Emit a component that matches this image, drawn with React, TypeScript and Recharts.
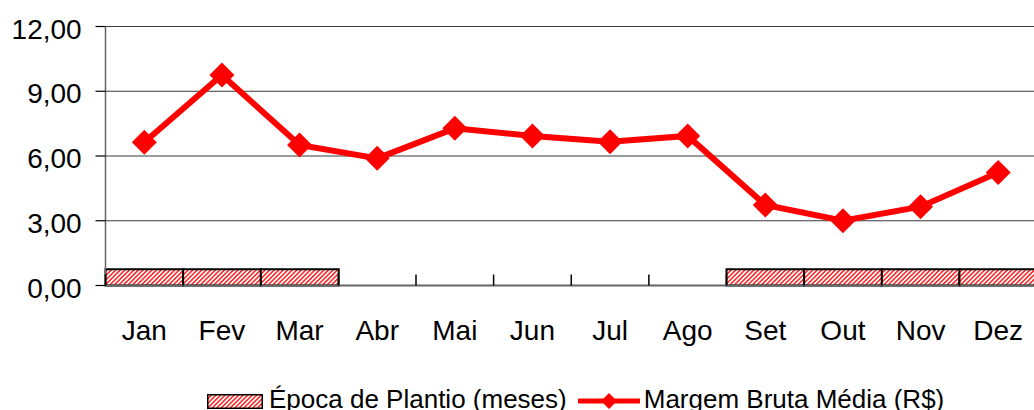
import React from "react";
import {
  ComposedChart,
  Bar,
  Line,
  XAxis,
  YAxis,
  CartesianGrid,
  Legend,
} from "recharts";

const months = ["Jan", "Fev", "Mar", "Abr", "Mai", "Jun", "Jul", "Ago", "Set", "Out", "Nov", "Dez"];
const margemBruta = [6.64, 9.75, 6.51, 5.89, 7.28, 6.93, 6.66, 6.93, 3.73, 3.0, 3.65, 5.23];
const epocaPlantio = [0.75, 0.75, 0.75, null, null, null, null, null, 0.75, 0.75, 0.75, 0.75];
const yTicks = [0, 3, 6, 9, 12];

const data = months.map((m, i) => ({
  mes: m,
  margem: margemBruta[i],
  plantio: epocaPlantio[i],
}));

const FONT = '"Liberation Sans", Arial, sans-serif';

const fmt = (v: number) => v.toFixed(2).replace(".", ",");

const Diamond = (props: any) => {
  const { cx, cy } = props;
  if (cx == null || cy == null) return null;
  const r = 12.5;
  return (
    <polygon
      points={`${cx},${cy - r} ${cx + r},${cy} ${cx},${cy + r} ${cx - r},${cy}`}
      fill="#ff0000"
    />
  );
};

// category label plus the small tick at the left edge of each band
const XTick = (props: any) => {
  const { x, y, payload } = props;
  const half = payload && payload.offset ? payload.offset : 38.8;
  return (
    <g>
      <line x1={x - half} y1={y} x2={x - half} y2={y - 11} stroke="#000" strokeWidth={1.5} />
      <text x={x} y={y + 54} textAnchor="middle" fontSize={28} fontFamily={FONT} fill="#000">
        {payload.value}
      </text>
    </g>
  );
};

const YTick = (props: any) => {
  const { x, y, payload } = props;
  return (
    <text x={x} y={y + 12} textAnchor="end" fontSize={28} fontFamily={FONT} fill="#000">
      {fmt(payload.value)}
    </text>
  );
};

const LegendBox = () => (
  <div
    style={{
      height: 44,
      boxSizing: "border-box",
      paddingTop: 22,
      paddingLeft: 207,
      display: "flex",
      alignItems: "center",
      fontFamily: FONT,
      fontSize: 26,
      lineHeight: "20px",
      color: "#000",
      whiteSpace: "nowrap",
    }}
  >
    <svg width={56} height={15} style={{ position: "relative", top: 2 }}>
      <rect x={0.75} y={0.75} width={54.5} height={13.5} fill="url(#hatch)" stroke="#000" strokeWidth={1.5} />
    </svg>
    <span style={{ marginLeft: 6 }}>Época de Plantio (meses)</span>
    <svg width={62} height={20} style={{ marginLeft: 11, position: "relative", top: 2 }}>
      <line x1={1} y1={10} x2={61} y2={10} stroke="#ff0000" strokeWidth={5} strokeLinecap="round" />
      <polygon points="31,2 39,10 31,18 23,10" fill="#ff0000" />
    </svg>
    <span style={{ marginLeft: 4 }}>Margem Bruta Média (R$)</span>
  </div>
);

export default function App() {
  return (
    <div
      style={{
        position: "absolute",
        left: 0,
        top: 0,
        width: 1034,
        height: 410,
        overflow: "hidden",
        background: "#fff",
      }}
    >
      <svg width={0} height={0} style={{ position: "absolute" }}>
        <defs>
          <pattern
            id="hatch"
            patternUnits="userSpaceOnUse"
            width={3.2}
            height={3.2}
            patternTransform="rotate(45)"
          >
            <rect width={3.2} height={3.2} fill="#ffffff" />
            <rect width={1.5} height={3.2} fill="#ff2020" />
          </pattern>
        </defs>
      </svg>
      <ComposedChart
        width={1040}
        height={410}
        data={data}
        margin={{ top: 26.5, right: 3, left: 0, bottom: 0 }}
        barCategoryGap={0}
        barGap={0}
      >
        <CartesianGrid horizontal vertical={false} stroke="#3a3a3a" strokeWidth={1.2} />
        <XAxis
          dataKey="mes"
          height={80.5}
          tickSize={0}
          tickMargin={0}
          tickLine={false}
          axisLine={{ stroke: "#666", strokeWidth: 2 }}
          tick={<XTick />}
          interval={0}
        />
        <YAxis
          width={105.5}
          domain={[0, 12]}
          ticks={yTicks}
          tickSize={10}
          tickMargin={13.8}
          tickLine={{ stroke: "#000", strokeWidth: 1.2 }}
          axisLine={{ stroke: "#666", strokeWidth: 1.5 }}
          tick={<YTick />}
          interval={0}
        />
        <Legend verticalAlign="bottom" height={44} content={<LegendBox />} />
        <Bar
          dataKey="plantio"
          name="Época de Plantio (meses)"
          fill="url(#hatch)"
          stroke="#000"
          strokeWidth={2}
          isAnimationActive={false}
        />
        <Line
          type="linear"
          dataKey="margem"
          name="Margem Bruta Média (R$)"
          stroke="#ff0000"
          strokeWidth={6}
          dot={<Diamond />}
          activeDot={false}
          isAnimationActive={false}
        />
      </ComposedChart>
    </div>
  );
}
